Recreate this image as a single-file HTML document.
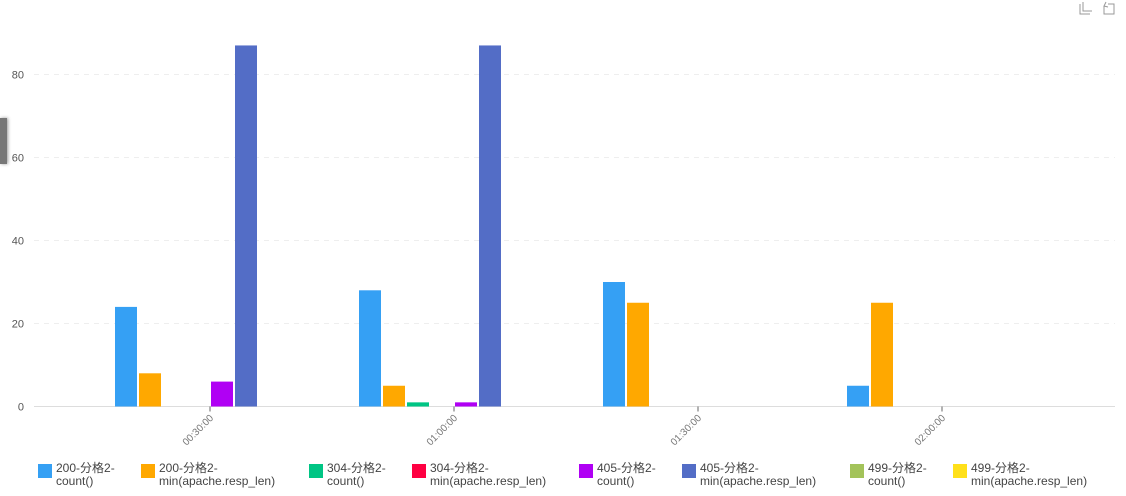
<!DOCTYPE html>
<html><head><meta charset="utf-8"><style>
body{margin:0;background:#fff;font-family:"Liberation Sans","Noto Sans CJK SC",sans-serif;}
#wrap{position:relative;width:1126px;height:496px;overflow:hidden;}
.leg{position:absolute;top:462px;font-size:12px;line-height:13px;color:#444;}
.leg i{position:absolute;left:0;top:2px;width:14px;height:14px;}
.leg span{position:absolute;left:18px;top:0;white-space:nowrap;}
</style></head><body>
<div id="wrap">
<svg id="chart" width="1126" height="496"></svg>
<div style="position:absolute;left:0;top:118px;width:7px;height:46px;background:#777;box-shadow:1px 0 3px #999"></div>
<div id="legend"></div>
</div>
<script>
const categories=["00:30:00","01:00:00","01:30:00","02:00:00"];
const seriesNames=["200-分格2-\ncount()","200-分格2-\nmin(apache.resp_len)","304-分格2-\ncount()","304-分格2-\nmin(apache.resp_len)","405-分格2-\ncount()","405-分格2-\nmin(apache.resp_len)","499-分格2-\ncount()","499-分格2-\nmin(apache.resp_len)"];
const colors=["#35a0f4","#ffa800","#00c584","#ff0042","#b000f4","#536dc6","#a3c35a","#ffe01a"];
const s200count=[24,28,30,5];
const s200min=[8,5,25,25];
const s304count=[0,1,0,0];
const s304min=[0,0,0,0];
const s405count=[6,1,0,0];
const s405min=[87,87,0,0];
const s499count=[0,0,0,0];
const s499min=[0,0,0,0];
const yTicks=[0,20,40,60,80];
const series=[s200count,s200min,s304count,s304min,s405count,s405min,s499count,s499min];
const NS="http://www.w3.org/2000/svg";
const svg=document.getElementById('chart');
const y0=406.5,yScale=332/80;
const yPos=v=>y0-v*yScale;
const groupW=244,firstCenter=210;
const xCenter=i=>firstCenter+i*groupW;
function mk(t,a){const e=document.createElementNS(NS,t);for(const k in a)e.setAttribute(k,a[k]);svg.appendChild(e);return e;}
yTicks.forEach(v=>{
 const l=mk('line',{x1:34,x2:1115,y1:yPos(v),y2:yPos(v),stroke:v===0?'#ddd':'#eee','stroke-dasharray':v===0?'':'5,5','stroke-width':1});
 
 
 const t=mk('text',{x:24,y:yPos(v)+4,'text-anchor':'end','font-size':11,fill:'#555'});
 t.textContent=v;
 
 
});
categories.forEach((c,i)=>{
 const x=xCenter(i);
 const tk=mk('line',{x1:x,x2:x,y1:y0,y2:y0+5,stroke:'#666'});
 
 
 const t=mk('text',{x:x+4,y:y0+12,'text-anchor':'end','font-size':10,fill:'#777',transform:`rotate(-45 ${x+4} ${y0+12})`});
 t.textContent=c;
 
 
 series.forEach((s,j)=>{
  const v=s[i]; if(!v) return;
  const bx=x-96+j*24+1;
  const r=mk('rect',{x:bx,y:yPos(v),width:22,height:v*yScale,fill:colors[j]});
  
  
 });
});
const ic1=mk('path',{d:'M1080 4v10h10 M1083 2v9h9',fill:'none',stroke:'#999','stroke-width':1});


const ic2=mk('path',{d:'M1104 6v8h10v-10h-6 M1106 2l-2 4 4 1',fill:'none',stroke:'#999','stroke-width':1});


const legX=[38,141,309,412,579,682,850,953];
const leg=document.getElementById('legend');
seriesNames.forEach((n,j)=>{
 const d=document.createElement('div');
 d.className='leg';d.style.left=legX[j]+'px';
 
 
 d.innerHTML=`<i style="background:${colors[j]}"></i><span>${n.replace('\n','<br>')}</span>`;
 leg.appendChild(d);
});
</script>
</body></html>
